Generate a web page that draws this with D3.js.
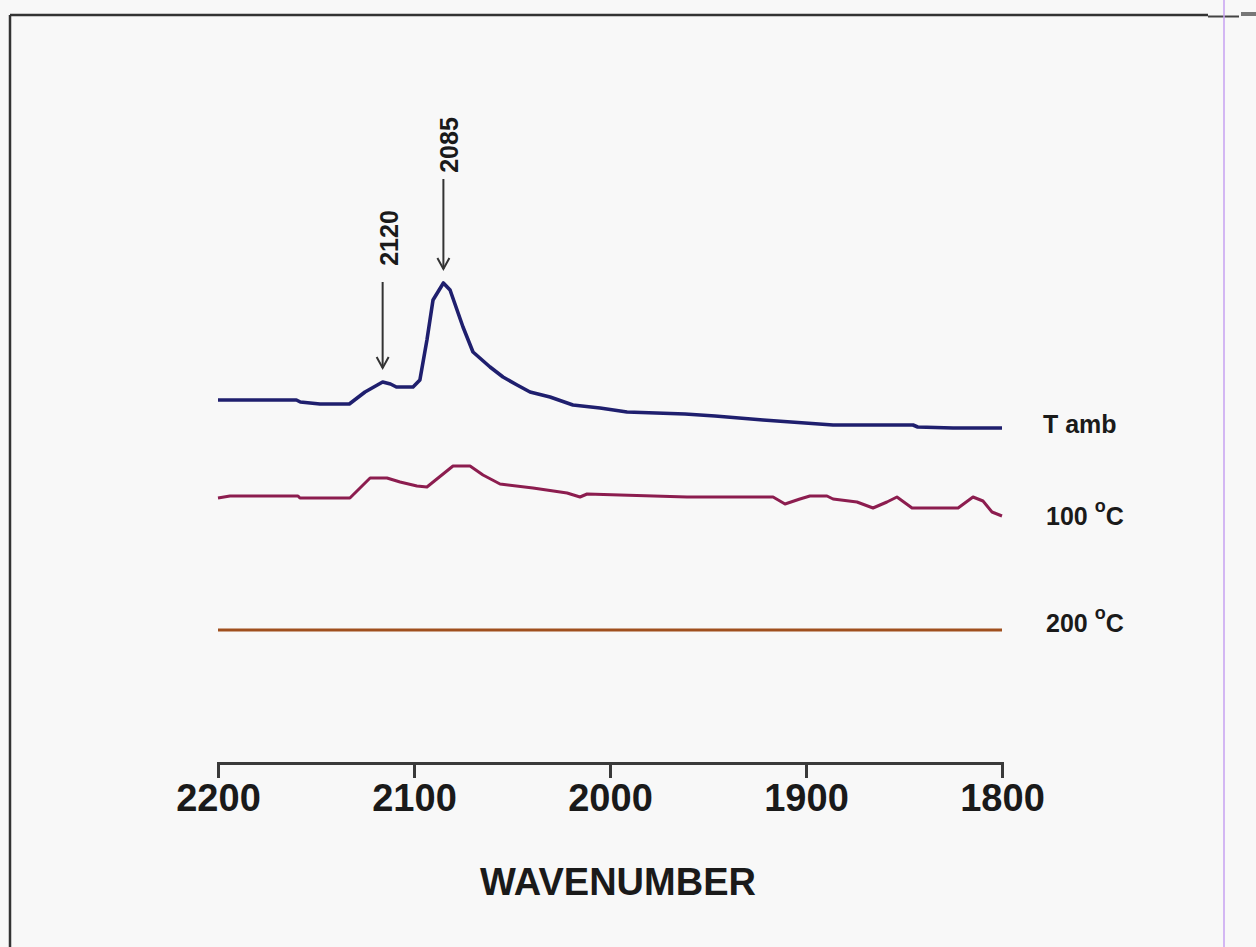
<!DOCTYPE html>
<html>
<head>
<meta charset="utf-8">
<script src="https://cdn.jsdelivr.net/npm/d3@7"></script>
<style>
  body { margin: 0; background: #f8f8f8; }
  text { font-family: "Liberation Sans", Arial, sans-serif; font-weight: bold; fill: #1a1a1a; }
</style>
</head>
<body>
<div id="chart"></div>
<script>
// Spectra: [wavenumber, absorbance]
var tambSpectrum = [
  [2200, 0.363], [2160, 0.363], [2158, 0.361], [2148, 0.359], [2133, 0.359],
  [2125, 0.371], [2116, 0.381], [2112, 0.379], [2109, 0.376], [2100.5, 0.376],
  [2097, 0.383], [2093.4, 0.423], [2090.3, 0.463], [2085, 0.480], [2081.6, 0.473],
  [2075, 0.436], [2069.9, 0.411], [2061.2, 0.396], [2054.6, 0.386], [2047.4, 0.378],
  [2040.8, 0.371], [2030.6, 0.366], [2018.9, 0.358], [2005.1, 0.355], [1991.3, 0.351],
  [1961.7, 0.349], [1946.4, 0.347], [1921.9, 0.343], [1900.5, 0.340], [1886.2, 0.338],
  [1845.4, 0.338], [1843, 0.336], [1825, 0.335], [1800, 0.335]
];
var spectrum100 = [
  [2200, 0.265], [2193.9, 0.267], [2159.2, 0.267], [2158.2, 0.265], [2132.7, 0.265],
  [2122.4, 0.285], [2113.8, 0.285], [2107.1, 0.281], [2098.5, 0.277], [2093.4, 0.276],
  [2080.1, 0.297], [2071.4, 0.297], [2064.8, 0.288], [2056.1, 0.279], [2039.3, 0.275],
  [2021.9, 0.270], [2015.3, 0.266], [2011.7, 0.269], [1994.9, 0.268], [1960.7, 0.266],
  [1916.8, 0.266], [1910.7, 0.259], [1903.1, 0.264], [1898, 0.267], [1889.3, 0.267],
  [1886.2, 0.264], [1874, 0.261], [1865.8, 0.255], [1858.7, 0.261], [1853.6, 0.266],
  [1845.9, 0.255], [1822.4, 0.255], [1814.8, 0.266], [1809.7, 0.262], [1805.1, 0.251],
  [1800, 0.247]
];
var spectrum200 = [
  [2200, 0.133], [2100, 0.133], [2000, 0.133], [1900, 0.133], [1800, 0.133]
];

var wavenumberTicks = [2200, 2100, 2000, 1900, 1800];
var seriesNames = ["T amb", "100", "200"];
var seriesColors = ["#1f1f6e", "#8c1d4f", "#a0501e"];
var seriesUnits = ["", "C", "C"];

// Peak markers: label text and where the arrow points
var peakLabels = ["2120", "2085"];
var peakPositions = [2116, 2085];

var svgWidth = 1256;
var svgHeight = 947;

var svg = d3.select("#chart")
  .append("svg")
  .attr("width", svgWidth)
  .attr("height", svgHeight);

// Frame around the scanned figure
svg.append("line").attr("x1", 10).attr("y1", 15).attr("x2", 10).attr("y2", svgHeight)
  .attr("stroke", "#333").attr("stroke-width", 2.5);
svg.append("line").attr("x1", 10).attr("y1", 15).attr("x2", 1208).attr("y2", 15)
  .attr("stroke", "#333").attr("stroke-width", 2.5);
svg.append("line").attr("x1", 1208).attr("y1", 16.5).attr("x2", 1239).attr("y2", 16.5)
  .attr("stroke", "#444").attr("stroke-width", 2);
svg.append("line").attr("x1", 1241).attr("y1", 14).attr("x2", svgWidth).attr("y2", 14)
  .attr("stroke", "#777").attr("stroke-width", 4);
svg.append("line").attr("x1", 1224).attr("y1", 0).attr("x2", 1224).attr("y2", svgHeight)
  .attr("stroke", "#c7a2f2").attr("stroke-width", 1.5);

// Scales
var xScale = d3.scaleLinear()
  .domain([2200, 1800])
  .range([218, 1002]);

var yScale = d3.scaleLinear()
  .domain([0, 0.5])
  .range([763, 263]);

// Axis
var bottomAxis = d3.axisBottom(xScale)
  .tickValues(wavenumberTicks)
  .tickSize(15)
  .tickPadding(6)
  .tickFormat(d3.format("d"));

var axisGroup = svg.append("g")
  .attr("transform", "translate(0,763)")
  .call(bottomAxis);
axisGroup.select(".domain").attr("stroke", "#3a3a3a").attr("stroke-width", 3);
axisGroup.selectAll(".tick line").attr("stroke", "#3a3a3a").attr("stroke-width", 3);
axisGroup.selectAll(".tick text")
  .attr("fill", "#1a1a1a")
  .style("font-family", "'Liberation Sans', Arial, sans-serif")
  .style("font-weight", "bold")
  .style("font-size", "38px");

svg.append("text")
  .attr("x", 618)
  .attr("y", 895)
  .attr("text-anchor", "middle")
  .style("font-size", "38px")
  .text("WAVENUMBER");

// Spectra
var line = d3.line()
  .x(d => xScale(d[0]))
  .y(d => yScale(d[1]));

var allSpectra = [tambSpectrum, spectrum100, spectrum200];

svg.selectAll(".spectrum")
  .data(allSpectra)
  .enter()
  .append("path")
  .attr("class", "spectrum")
  .attr("d", line)
  .attr("fill", "none")
  .attr("stroke", (d, i) => seriesColors[i])
  .attr("stroke-width", (d, i) => i == 0 ? 3.6 : 3)
  .attr("stroke-linejoin", "round");

// Series labels on the right
var labels = svg.selectAll(".series-label")
  .data(allSpectra)
  .enter()
  .append("text")
  .attr("class", "series-label")
  .attr("x", (d, i) => i == 0 ? 1043 : 1046)
  .attr("y", (d, i) => yScale(d[d.length - 1][1]) + (i == 0 ? 5 : i == 1 ? 9 : 2))
  .style("font-size", "25px");

labels.append("tspan").text((d, i) => i == 0 ? seriesNames[i] : seriesNames[i] + " ");
labels.filter((d, i) => seriesUnits[i] != "")
  .append("tspan")
  .attr("dy", -13)
  .style("font-size", "18px")
  .text("o");
labels.filter((d, i) => seriesUnits[i] != "")
  .append("tspan")
  .attr("dx", 0)
  .attr("dy", 13)
  .text((d, i) => "C");

// Peak arrows
var arrowLength = 86;
peakPositions.forEach(function(wn, i) {
  var peak = d3.least(tambSpectrum, d => Math.abs(d[0] - wn));
  var x = xScale(wn);
  var tip = yScale(peak[1]) - 14;
  var top = tip - arrowLength - (i == 1 ? 4 : 0);
  var arrow = svg.append("g").attr("stroke", "#333").attr("stroke-width", 2).attr("fill", "none");
  arrow.append("line").attr("x1", x).attr("y1", top).attr("x2", x).attr("y2", tip);
  arrow.append("path").attr("d", `M${x - 6},${tip - 11}L${x},${tip}L${x + 6},${tip - 11}`);

  var labelMid = top - (i == 0 ? 16 : 6) - 28;
  svg.append("text")
    .attr("transform", `translate(${x + 15},${labelMid}) rotate(-90)`)
    .attr("text-anchor", "middle")
    .style("font-size", "25px")
    .text(peakLabels[i]);
});
</script>
</body>
</html>
